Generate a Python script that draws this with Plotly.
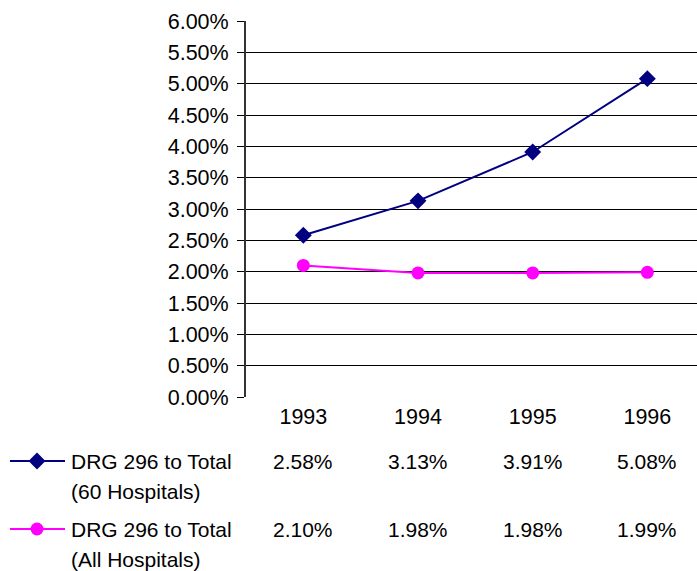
import plotly.graph_objects as go

years = ["1993", "1994", "1995", "1996"]
series_60 = [2.58, 3.13, 3.91, 5.08]
series_all = [2.10, 1.98, 1.98, 1.99]
name_60 = ["DRG 296 to Total", "(60 Hospitals)"]
name_all = ["DRG 296 to Total", "(All Hospitals)"]
y_ticks = [i * 0.5 for i in range(13)]
y_tick_labels = [f"{v:.2f}%" for v in y_ticks]

NAVY = "#000080"
MAGENTA = "#FF00FF"
FONT = "Liberation Sans, Arial, sans-serif"
FS = 21
FS_TICK = 21.5
W, H = 697, 571

fig = go.Figure()
fig.add_trace(go.Scatter(x=years, y=series_60, mode="lines+markers",
                         line=dict(color=NAVY, width=2),
                         marker=dict(symbol="diamond", size=13, color=NAVY),
                         showlegend=False))
fig.add_trace(go.Scatter(x=years, y=series_all, mode="lines+markers",
                         line=dict(color=MAGENTA, width=2),
                         marker=dict(symbol="circle", size=13, color=MAGENTA),
                         showlegend=False))

# legend keys on a helper pixel axis
for yk, col, sym in [(461, NAVY, "diamond"), (529, MAGENTA, "circle")]:
    fig.add_trace(go.Scatter(x=[10, 65], y=[yk, yk], mode="lines",
                             line=dict(color=col, width=2), xaxis="x2", yaxis="y2",
                             showlegend=False, hoverinfo="skip"))
    fig.add_trace(go.Scatter(x=[37], y=[yk], mode="markers",
                             marker=dict(symbol=sym, size=13, color=col),
                             xaxis="x2", yaxis="y2", showlegend=False, hoverinfo="skip"))

annotations = []
for lines, y0 in [(name_60, 461), (name_all, 529)]:
    for i, t in enumerate(lines):
        annotations.append(dict(text=t, x=69, y=y0 + 30 * i, xref="x2", yref="y2",
                                xanchor="left", yanchor="middle", showarrow=False,
                                font=dict(family=FONT, size=FS, color="black")))
for vals, y0 in [(series_60, 461), (series_all, 529)]:
    for idx, v in enumerate(vals):
        annotations.append(dict(text=f"{v:.2f}%", x=idx, y=y0, xref="x", yref="y2",
                                xanchor="center", yanchor="middle", showarrow=False,
                                font=dict(family=FONT, size=FS, color="black")))

x_left = 246 / W
y_bot = (H - 397) / H
y_top = (H - 21) / H

fig.update_layout(
    width=W, height=H,
    margin=dict(l=0, r=0, t=0, b=0, pad=0),
    paper_bgcolor="white", plot_bgcolor="rgba(0,0,0,0)",
    font=dict(family=FONT, size=FS, color="black"),
    xaxis=dict(domain=[x_left, 1.0], type="category", range=[-0.5, 3.433],
               showgrid=False, showline=False, zeroline=False, ticks="",
               automargin=False, ticklabelstandoff=4,
               tickfont=dict(family=FONT, size=FS_TICK, color="black")),
    yaxis=dict(domain=[y_bot, y_top], range=[0, 6], tickvals=y_ticks,
               ticktext=y_tick_labels, showgrid=True, gridcolor="black", gridwidth=1,
               showline=True, linecolor="#333333", linewidth=2, zeroline=False,
               ticks="outside", ticklen=7, tickcolor="black", tickwidth=1,
               automargin=False, ticklabelstandoff=4,
               tickfont=dict(family=FONT, size=FS_TICK, color="black")),
    xaxis2=dict(domain=[0, 1], range=[0, W], visible=False, anchor="y2",
                automargin=False),
    yaxis2=dict(domain=[0, 1], range=[H, 0], visible=False, anchor="x2",
                automargin=False),
    annotations=annotations,
)

fig.write_html("out.html",
               config={"displayModeBar": False},
               post_script="document.body.style.margin='0px';"
                           "document.body.style.overflow='hidden';")
